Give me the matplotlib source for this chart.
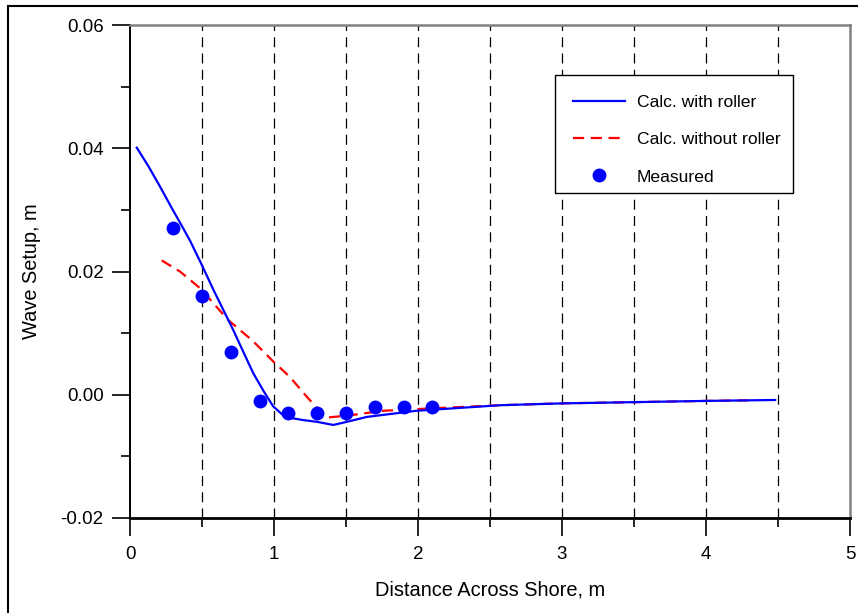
import matplotlib
matplotlib.use("Agg")
import matplotlib.pyplot as plt
from matplotlib.patches import Rectangle

plt.rcParams['font.family'] = ['Liberation Sans', 'DejaVu Sans']

# Calc. with roller
x_roller = [0.047, 0.13, 0.208, 0.29, 0.36, 0.417, 0.498, 0.58, 0.66, 0.717, 0.79, 0.856, 0.93, 0.995, 1.076,
            1.2, 1.3, 1.412, 1.505, 1.644, 1.99, 2.57, 3.0, 3.5, 4.0, 4.48]
y_roller = [0.0401, 0.0370, 0.0338, 0.0303, 0.0274, 0.0250, 0.0211, 0.0170, 0.0132, 0.0105, 0.0068, 0.0035, 0.0005, -0.0019, -0.0036,
            -0.0041, -0.0044, -0.0049, -0.0044, -0.0036, -0.0026, -0.0017, -0.0014, -0.0012, -0.0010, -0.00085]

# Calc. without roller
x_noroller = [0.22, 0.347, 0.486, 0.683, 0.85, 0.995, 1.11, 1.227, 1.30, 1.366,
              1.505, 1.76, 2.1, 2.57, 3.0, 3.5, 4.0, 4.34]
y_noroller = [0.0218, 0.0200, 0.0173, 0.0121, 0.0088, 0.0054, 0.0029, -0.0003, -0.0022, -0.0037,
              -0.0034, -0.0026, -0.0022, -0.0017, -0.0014, -0.0012, -0.0010, -0.0009]

# Measured
x_meas = [0.3, 0.5, 0.7, 0.9, 1.1, 1.3, 1.5, 1.7, 1.9, 2.1]
y_meas = [0.027, 0.016, 0.007, -0.001, -0.003, -0.003, -0.003, -0.002, -0.002, -0.002]

x_ticks = [0, 1, 2, 3, 4, 5]
y_ticks = [-0.02, 0.00, 0.02, 0.04, 0.06]
y_ticklabels = ['-0.02', '0.00', '0.02', '0.04', '0.06']

W, H = 858, 613
AX_L, AX_R, AX_T, AX_B = 130, 850, 25, 518
fig = plt.figure(figsize=(W / 100, H / 100), dpi=100)
ax = fig.add_axes([AX_L / W, (H - AX_B) / H, (AX_R - AX_L) / W, (AX_B - AX_T) / H])

def px_to_axes(px, py):
    return ((px - AX_L) / (AX_R - AX_L), (AX_B - py) / (AX_B - AX_T))

# outer frame (top & left visible)
fig.patches.append(Rectangle((8 / W, -0.1), 1.1, (H - 6) / H + 0.1, transform=fig.transFigure,
                             fill=False, edgecolor='black', linewidth=1.5, zorder=0))

ax.set_xlim(0, 5)
ax.set_ylim(-0.02, 0.06)

# vertical dashed grid lines at every 0.5
for gx in [0.5, 1, 1.5, 2, 2.5, 3, 3.5, 4, 4.5]:
    ax.axvline(gx, color='black', linestyle=(0, (8, 5)), linewidth=0.9, zorder=1)

ax.plot(x_roller, y_roller, color='#0000ff', linewidth=1.6, zorder=3, label='Calc. with roller')
ax.plot(x_noroller, y_noroller, color='#ff0000', linewidth=1.6, linestyle=(0, (5, 3)),
        zorder=2, label='Calc. without roller')
ax.plot(x_meas, y_meas, 'o', color='#0000ff', markersize=10, markeredgewidth=0, zorder=4,
        label='Measured')

ax.set_xticks(x_ticks)
ax.set_xticks([0.5, 1.5, 2.5, 3.5, 4.5], minor=True)
ax.set_yticks(y_ticks)
ax.set_yticklabels(y_ticklabels)
ax.set_yticks([-0.01, 0.01, 0.03, 0.05], minor=True)
ax.tick_params(axis='both', which='major', direction='out', length=13, width=1.2,
               labelsize=13.5, pad=6, colors='black')
ax.tick_params(axis='x', which='major', pad=7)
ax.tick_params(axis='both', which='minor', direction='out', length=6.5, width=1.2)

for s in ['top', 'right']:
    ax.spines[s].set_color('#808080')
    ax.spines[s].set_linewidth(1.8)
ax.spines['left'].set_linewidth(1.4)
ax.spines['bottom'].set_linewidth(2.0)

ax.set_xlabel('Distance Across Shore, m', fontsize=14.4, labelpad=13)
ax.set_ylabel('Wave Setup, m', fontsize=14.4, labelpad=14)

# legend box
x0, y0 = px_to_axes(555, 193)
x1, y1 = px_to_axes(793, 75)
ax.add_patch(Rectangle((x0, y0), x1 - x0, y1 - y0, transform=ax.transAxes,
                       facecolor='white', edgecolor='black', linewidth=1.0, zorder=5))

lx, ly = px_to_axes(573, 95)
leg = ax.legend(loc='upper left', bbox_to_anchor=(lx, ly),
                frameon=False, fontsize=12.6, handlelength=2.95, handletextpad=0.68,
                labelspacing=1.25, borderpad=0, borderaxespad=0)
leg.set_zorder(6)

fig.savefig('out.png', dpi=100)
